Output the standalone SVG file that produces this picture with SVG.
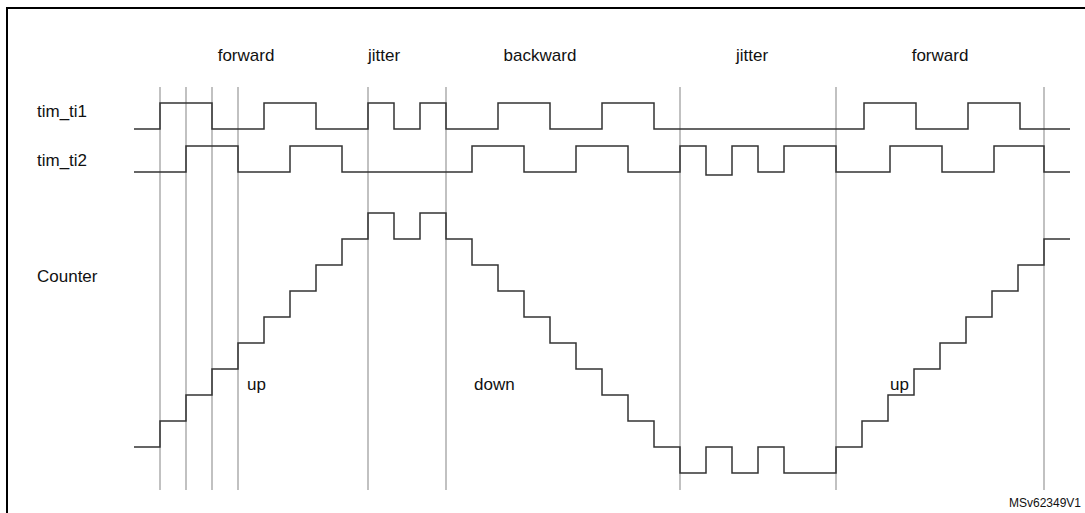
<svg xmlns="http://www.w3.org/2000/svg" width="1085" height="513" viewBox="0 0 1085 513">
<style>
.g{stroke:#a0a0a0;stroke-width:1.3;fill:none}
.s{stroke:#333;stroke-width:1.5;fill:none}
text{font-family:"Liberation Sans",Arial,sans-serif;font-size:17px;fill:#111}
</style>
<rect x="0" y="0" width="1085" height="513" fill="#fff"/>
<rect x="7" y="8" width="1080" height="510" fill="none" stroke="#000" stroke-width="2"/>
<g id="connectors">
<g id="gridlines">
<path class="g" d="M160 87V490M186 87V490M212 87V490M238 87V490M368 87V490M446 87V490M680 87V490M836 87V490M1044 87V490"/>
</g>
<path id="ti1" class="s" d="M134 129H160V103H212V129H264V103H316V129H368V103H394V129H420V103H446V129H498V103H550V129H602V103H654V129H864V103H916V129H968V103H1020V129H1070"/>
<path id="ti2" class="s" d="M134 172H186V146H238V172H290V146H342V172H472V146H524V172H576V146H628V172H680V146H706V175H732V146H758V172H784V146H836V172H890V146H942V172H994V146H1044V172H1070"/>
<path id="counter" class="s" d="M134 447H160V421H186V395H212V369H238V343H264V317H290V291H316V265H342V239H368V213H394V239H420V213H446V239H472V265H498V291H524V317H550V343H576V369H602V395H628V421H654V447H680V473H706V447H732V473H758V447H784V473H836V447H862V421H888V395H914V369H940V343H966V317H992V291H1018V265H1044V239H1070"/>
</g>
<g id="labels">
<text x="246" y="61" text-anchor="middle">forward</text>
<text x="384" y="61" text-anchor="middle">jitter</text>
<text x="540" y="61" text-anchor="middle">backward</text>
<text x="752" y="61" text-anchor="middle">jitter</text>
<text x="940" y="61" text-anchor="middle">forward</text>
<text x="37" y="117">tim_ti1</text>
<text x="37" y="166">tim_ti2</text>
<text x="37" y="282">Counter</text>
<text x="247" y="390">up</text>
<text x="474" y="390">down</text>
<text x="890" y="390">up</text>
<text x="1081" y="507" text-anchor="end" style="font-size:12px">MSv62349V1</text>
</g>
</svg>
